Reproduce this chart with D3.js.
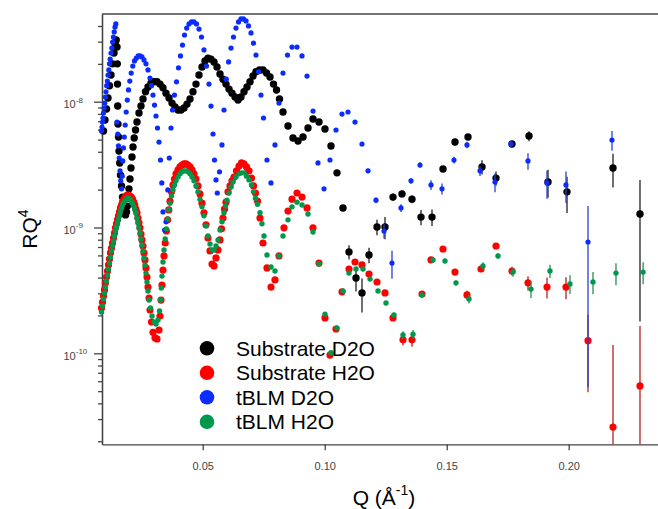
<!DOCTYPE html>
<html>
<head>
<meta charset="utf-8">
<script src="https://cdn.jsdelivr.net/npm/d3@7/dist/d3.min.js"></script>
<style>
  body { margin: 0; background: #fff; }
  svg { font-family: "Liberation Sans", Arial, sans-serif; }
</style>
</head>
<body>
<div id="canvas"></div>
<script>
// [Q, RQ^4, relative error (optional)]
var substrateD2O = [
  [0.00934,5.85e-9],[0.00996,7.15e-9],[0.01057,8.74e-9],[0.01119,1.07e-8],[0.0118,1.34e-8],
  [0.01242,1.63e-8],[0.01303,2.00e-8],[0.01365,2.44e-8],[0.01414,2.82e-8],[0.01455,3.09e-8],
  [0.01488,2.72e-8],[0.015,2.00e-8],[0.01508,1.38e-8],[0.01516,9.24e-9],[0.01529,6.64e-9],[0.01549,5.24e-9],
  [0.0157,4.05e-9],[0.01598,3.26e-9],[0.01631,2.61e-9],[0.01672,2.14e-9],[0.01713,1.745e-9],[0.01754,1.48e-9],
  [0.01795,1.31e-9],[0.01836,1.26e-9],[0.01877,1.33e-9],[0.0191,1.48e-9],[0.01947,1.71e-9],[0.01979,2.03e-9],
  [0.0202,2.43e-9],[0.02061,2.97e-9],[0.02102,3.63e-9],[0.02143,4.37e-9],[0.02193,5.15e-9],[0.02246,5.96e-9],
  [0.02307,6.89e-9],[0.02389,8.13e-9],[0.02471,9.24e-9],[0.02553,1.05e-8],[0.02656,1.20e-8],[0.02758,1.31e-8],
  [0.02881,1.41e-8],[0.03004,1.44e-8],[0.03127,1.44e-8],[0.0325,1.38e-8],[0.03373,1.29e-8],[0.03496,1.17e-8],
  [0.03619,1.07e-8],[0.03742,9.75e-9],[0.03865,9.07e-9],[0.03988,8.59e-9],[0.04111,8.59e-9],[0.04234,8.91e-9],
  [0.04357,9.57e-9],[0.0448,1.05e-8],[0.04602,1.20e-8],[0.04725,1.38e-8],[0.04848,1.63e-8],[0.04971,1.89e-8],
  [0.05094,2.11e-8],[0.05217,2.22e-8],[0.0534,2.18e-8],[0.05463,2.07e-8],[0.05586,1.89e-8],[0.05709,1.66e-8],
  [0.05832,1.51e-8],[0.05955,1.38e-8],[0.06078,1.26e-8],[0.06201,1.17e-8],[0.06324,1.09e-8],[0.06447,1.03e-8],
  [0.0657,1.09e-8],[0.06693,1.20e-8],[0.06816,1.31e-8],[0.06939,1.44e-8],[0.07062,1.60e-8],[0.07184,1.73e-8],
  [0.07328,1.79e-8],[0.07471,1.79e-8],[0.07615,1.69e-8],[0.07758,1.57e-8],[0.07902,1.38e-8],[0.08025,1.24e-8],
  [0.08148,1.05e-8],[0.08291,8.28e-9],[0.08496,6.41e-9],[0.08701,5.15e-9],[0.08906,4.87e-9],[0.09111,5.24e-9],
  [0.09316,6.18e-9],[0.0952,7.29e-9],[0.09766,6.89e-9],[0.10012,6.07e-9],[0.10258,4.45e-9],[0.10504,2.72e-9],
  [0.1075,1.43e-9,0.05],[0.10996,6.39e-10,0.13],[0.11283,3.97e-10,0.22],[0.11529,3.02e-10,0.3],
  [0.11816,6.05e-10,0.14],[0.12144,1.01e-9,0.14],[0.12471,1.01e-9,0.2],[0.12799,1.745e-9,0.07],
  [0.13168,1.85e-9,0.06],[0.13578,1.68e-9,0.07],[0.13947,1.21e-9,0.14],[0.14398,1.21e-9,0.15],
  [0.14848,2.92e-9,0.05],[0.1534,4.78e-9,0.06],[0.15873,5.24e-9,0.05],[0.16447,3.03e-9,0.13],
  [0.17021,2.47e-9,0.13],[0.17676,4.61e-9,0.06],[0.18373,5.34e-9,0.09],[0.19152,2.30e-9,0.25],
  [0.19931,1.92e-9,0.32],[0.21816,2.97e-9,0.3],[0.22922,1.28e-9,0.86]
];

var substrateH2O = [
  [0.00852,2.29e-10],[0.00893,2.55e-10],[0.00934,2.86e-10],[0.00975,3.19e-10],[0.01016,3.63e-10],[0.01057,4.04e-10],
  [0.01098,4.51e-10],[0.01139,5.04e-10],[0.0118,5.62e-10],[0.01221,6.28e-10],[0.01262,6.87e-10],[0.01303,7.53e-10],
  [0.01344,8.25e-10],[0.01385,9.04e-10],[0.01426,9.94e-10],[0.01467,1.07e-9],[0.01508,1.15e-9],[0.01549,1.24e-9],
  [0.0159,1.33e-9],[0.01631,1.43e-9],[0.01672,1.51e-9],[0.01713,1.59e-9],[0.01754,1.65e-9],[0.01803,1.71e-9],
  [0.01857,1.78e-9],[0.0191,1.81e-9],[0.01963,1.81e-9],[0.0202,1.78e-9],[0.02074,1.745e-9],[0.02123,1.68e-9],
  [0.02172,1.59e-9],[0.02217,1.51e-9],[0.02262,1.40e-9],[0.02307,1.31e-9],[0.02348,1.19e-9],[0.02389,1.09e-9],
  [0.0243,9.94e-10],[0.02471,8.87e-10],[0.02512,7.96e-10],[0.02553,7.13e-10],[0.02594,6.28e-10],[0.02635,5.52e-10],
  [0.02676,4.77e-10],[0.02717,4.04e-10],[0.02758,3.36e-10],[0.02799,2.75e-10],[0.0284,2.21e-10],[0.02902,1.77e-10],
  [0.02963,1.47e-10],[0.03045,1.33e-10],[0.03127,1.30e-10],[0.03209,1.53e-10],[0.0325,1.98e-10],[0.03291,2.65e-10],
  [0.03332,3.49e-10],[0.03373,4.59e-10],[0.03414,5.94e-10],[0.03463,7.53e-10],[0.03512,9.38e-10],[0.03562,1.15e-9],
  [0.03611,1.38e-9],[0.0366,1.62e-9],[0.03721,1.92e-9],[0.03783,2.18e-9],[0.03844,2.43e-9],[0.03906,2.67e-9],
  [0.03988,2.87e-9],[0.0407,3.03e-9],[0.04152,3.14e-9],[0.04234,3.20e-9],[0.04316,3.20e-9],[0.04398,3.14e-9],
  [0.0448,3.03e-9],[0.04562,2.87e-9],[0.04643,2.67e-9],[0.04725,2.43e-9],[0.04807,2.14e-9],[0.04889,1.85e-9],
  [0.04971,1.56e-9],[0.05053,1.31e-9],[0.05135,1.05e-9],[0.05217,8.25e-10],[0.05299,6.51e-10],[0.05381,5.13e-10],
  [0.05463,4.95e-10],[0.05545,5.73e-10],[0.05627,6.63e-10],[0.05709,7.96e-10],[0.05771,9.76e-10],[0.05832,1.19e-9],
  [0.05893,1.40e-9],[0.05955,1.59e-9],[0.06037,1.92e-9],[0.06119,2.14e-9],[0.06201,2.35e-9],[0.06283,2.52e-9],
  [0.06385,2.82e-9],[0.06488,3.08e-9],[0.0659,3.26e-9],[0.06693,3.20e-9],[0.06795,3.03e-9],[0.06898,2.82e-9],
  [0.07,2.47e-9],[0.07082,2.14e-9],[0.07164,1.88e-9],[0.07246,1.62e-9],[0.07348,1.19e-9],[0.07471,7.53e-10],
  [0.07635,4.77e-10],[0.07799,3.36e-10],[0.07963,3.83e-10],[0.08127,5.94e-10],[0.08332,9.94e-10],[0.08496,1.35e-9],
  [0.0866,1.68e-9],[0.08865,1.88e-9],[0.0907,1.745e-9],[0.09275,1.43e-9],[0.0952,9.94e-10],[0.09766,5.22e-10],
  [0.10012,1.91e-10],[0.10217,9.69e-11],[0.10463,1.56e-10],[0.10709,3.08e-10],[0.10996,4.68e-10],[0.11242,5.32e-10],
  [0.11529,5.04e-10],[0.11816,4.27e-10],[0.12144,3.69e-10],[0.12471,3.02e-10],[0.12799,1.91e-10,0.05],
  [0.13209,1.28e-10,0.1],[0.13578,1.28e-10,0.12],[0.13988,2.96e-10,0.05],[0.14357,5.52e-10,0.04],
  [0.14848,6.75e-10,0.04],[0.1534,4.42e-10,0.05],[0.15832,2.91e-10,0.08],[0.16406,4.68e-10,0.06],
  [0.17021,7.13e-10,0.05],[0.17676,4.51e-10,0.08],[0.18332,3.63e-10,0.13],[0.19111,3.36e-10,0.19],
  [0.1989,3.36e-10,0.2],[0.20791,1.26e-10,0.61],[0.21816,2.59e-11,3.5],[0.22922,5.50e-11,2.0]
];

var tblmD2O = [
  [0.00852,5.85e-9],[0.00873,6.29e-9],[0.00893,6.89e-9],[0.00914,7.42e-9],[0.00934,8.13e-9],[0.00955,8.91e-9],
  [0.00984,9.75e-9],[0.01012,1.09e-8],[0.01037,1.20e-8],[0.01066,1.34e-8],[0.01094,1.46e-8],[0.01119,1.63e-8],
  [0.01152,1.79e-8],[0.0118,2.00e-8],[0.01209,2.18e-8],[0.01242,2.44e-8],[0.01275,2.67e-8],[0.01307,2.98e-8],
  [0.0134,3.27e-8],[0.01373,3.59e-8],[0.01406,3.92e-8],[0.01439,4.15e-8],
  [0.01488,6.89e-9],[0.0152,5.54e-9],[0.01549,4.45e-9],[0.01578,3.57e-9],[0.01611,2.82e-9],[0.01639,2.35e-9],
  [0.01672,2.03e-9],[0.01701,2.56e-9],[0.01725,3.38e-9],[0.01754,4.29e-9],[0.01787,5.24e-9],[0.01824,6.53e-9],
  [0.01865,8.28e-9],[0.0191,1.03e-8],[0.01959,1.24e-8],[0.02012,1.46e-8],[0.0207,1.69e-8],[0.02135,1.92e-8],
  [0.02205,2.11e-8],[0.02279,2.22e-8],[0.02357,2.31e-8],[0.02434,2.31e-8],[0.02512,2.27e-8],[0.02594,2.15e-8],
  [0.02676,2.00e-8],[0.02758,1.79e-8],[0.0284,1.54e-8],[0.02902,1.34e-8],[0.02963,1.13e-8],[0.03025,9.41e-9],
  [0.03086,7.70e-9],[0.03148,6.18e-9],[0.03209,4.78e-9],[0.0327,3.44e-9],[0.03324,2.26e-9],[0.03373,1.33e-9],
  [0.03439,9.55e-10],[0.03496,1.11e-9],[0.0357,1.99e-9],[0.03631,3.57e-9],[0.03701,6.18e-9],[0.03762,8.59e-9],
  [0.03844,1.13e-8],[0.03926,1.44e-8],[0.04008,1.86e-8],[0.0409,2.31e-8],[0.04172,2.82e-8],[0.04254,3.39e-8],
  [0.04344,3.85e-8],[0.04439,4.15e-8],[0.04541,4.31e-8],[0.04643,4.31e-8],[0.04746,4.15e-8],[0.04848,3.78e-8],
  [0.04951,3.27e-8],[0.05053,2.58e-8],[0.05156,1.92e-8],[0.05258,1.38e-8],[0.0534,9.24e-9],[0.05422,5.54e-9],
  [0.05484,3.44e-9],[0.05545,2.39e-9],[0.05598,1.88e-9],[0.05689,2.77e-9],[0.05791,4.53e-9],[0.05873,8.59e-9],
  [0.05967,1.51e-8],[0.06061,2.07e-8],[0.0616,2.67e-8],[0.06262,3.27e-8],[0.06365,3.85e-8],[0.06467,4.31e-8],
  [0.0657,4.55e-8],[0.06672,4.55e-8],[0.06775,4.39e-8],[0.06877,4.00e-8],[0.0698,3.52e-8],[0.07082,2.92e-8],
  [0.07184,2.35e-8],[0.07287,1.73e-8],[0.07389,1.13e-8],[0.07492,7.42e-9],[0.07635,3.44e-9],[0.07799,2.26e-9],
  [0.07963,4.53e-9],[0.08127,9.75e-9],[0.08291,1.69e-8],[0.08475,2.35e-8],[0.0866,2.72e-8],[0.08865,2.72e-8],
  [0.0907,2.31e-8],[0.09275,1.60e-8],[0.09521,8.43e-9],[0.09725,3.26e-9],[0.09971,2.03e-9],
  [0.10217,3.44e-9,0.03],[0.10463,5.96e-9,0.03],[0.10709,7.98e-9,0.03],[0.10955,8.28e-9,0.03],
  [0.11242,6.89e-9,0.03],[0.11529,4.61e-9,0.04],[0.11775,2.82e-9,0.04],[0.12103,1.65e-9,0.05],
  [0.12431,9.38e-10,0.13],[0.12758,5.22e-10,0.25],[0.13127,1.43e-9,0.07],[0.13537,2.35e-9,0.05],
  [0.13906,3.14e-9,0.05],[0.14357,2.18e-9,0.09],[0.14807,2.03e-9,0.1],[0.15299,3.44e-9,0.06],
  [0.15832,4.53e-9,0.06],[0.16365,2.82e-9,0.09],[0.16979,2.30e-9,0.17],[0.17635,4.61e-9,0.06],
  [0.18332,3.38e-9,0.15],[0.1911,2.26e-9,0.25],[0.19889,2.18e-9,0.28],[0.20791,7.67e-10,0.93],
  [0.21774,4.96e-9,0.18]
];

var tblmH2O = [
  [0.00852,2.13e-10],[0.00893,2.38e-10],[0.00934,2.70e-10],[0.00975,3.02e-10],[0.01016,3.36e-10],[0.01057,3.76e-10],
  [0.01098,4.19e-10],[0.01139,4.68e-10],[0.0118,5.22e-10],[0.01221,5.83e-10],[0.01262,6.51e-10],[0.01303,7.13e-10],
  [0.01344,7.82e-10],[0.01385,8.56e-10],[0.01426,9.38e-10],[0.01467,1.01e-9],[0.01508,1.09e-9],[0.01549,1.17e-9],
  [0.0159,1.26e-9],[0.01631,1.35e-9],[0.01672,1.43e-9],[0.01713,1.51e-9],[0.01754,1.56e-9],[0.01803,1.62e-9],
  [0.01857,1.68e-9],[0.0191,1.71e-9],[0.01963,1.71e-9],[0.0202,1.68e-9],[0.02074,1.62e-9],[0.02123,1.56e-9],
  [0.02172,1.48e-9],[0.02217,1.40e-9],[0.02262,1.31e-9],[0.02307,1.19e-9],[0.02348,1.09e-9],[0.02389,9.94e-10],
  [0.0243,9.04e-10],[0.02471,8.10e-10],[0.02512,7.26e-10],[0.02553,6.51e-10],[0.02594,5.73e-10],[0.02635,5.04e-10],
  [0.02676,4.34e-10],[0.02717,3.69e-10],[0.02758,3.13e-10],[0.02799,2.65e-10],[0.0286,2.29e-10],[0.02922,1.98e-10],
  [0.03004,1.77e-10],[0.03086,1.71e-10],[0.03168,1.84e-10],[0.0323,2.17e-10],[0.03271,2.65e-10],[0.03303,3.30e-10],
  [0.03332,4.11e-10],[0.03373,5.32e-10],[0.03414,6.63e-10],[0.03463,8.10e-10],[0.03512,9.76e-10],[0.03562,1.17e-9],
  [0.03611,1.38e-9],[0.0366,1.56e-9],[0.03721,1.78e-9],[0.03783,1.99e-9],[0.03844,2.18e-9],[0.03906,2.35e-9],
  [0.03988,2.52e-9],[0.0407,2.67e-9],[0.04152,2.77e-9],[0.04234,2.82e-9],[0.04316,2.82e-9],[0.04398,2.77e-9],
  [0.0448,2.67e-9],[0.04562,2.52e-9],[0.04643,2.35e-9],[0.04725,2.14e-9],[0.04807,1.92e-9],[0.04889,1.68e-9],
  [0.04971,1.46e-9],[0.05053,1.24e-9],[0.05135,1.03e-9],[0.05217,8.56e-10],[0.05299,7.40e-10],[0.05381,6.63e-10],
  [0.05463,6.63e-10],[0.05545,7.13e-10],[0.05627,7.96e-10],[0.05709,9.55e-10],[0.05791,1.11e-9],[0.05873,1.31e-9],
  [0.05934,1.48e-9],[0.05996,1.65e-9],[0.06078,1.88e-9],[0.0616,2.10e-9],[0.06242,2.30e-9],[0.06365,2.52e-9],
  [0.06488,2.67e-9],[0.0659,2.72e-9],[0.06693,2.72e-9],[0.06795,2.56e-9],[0.06898,2.39e-9],[0.07,2.18e-9],
  [0.07082,1.92e-9],[0.07164,1.71e-9],[0.07246,1.53e-9],[0.07348,1.31e-9],[0.0743,1.07e-9],[0.07512,8.56e-10],
  [0.07635,6.05e-10],[0.07799,4.86e-10],[0.07963,4.51e-10],[0.08127,5.94e-10],[0.08291,8.56e-10],[0.08496,1.15e-9],
  [0.0866,1.46e-9],[0.08865,1.59e-9],[0.0907,1.51e-9],[0.09316,1.28e-9],[0.0952,9.21e-10],[0.09766,5.13e-10],
  [0.10012,2.05e-10],[0.10258,1.01e-10],[0.10504,1.59e-10],[0.1075,3.13e-10],[0.10996,4.34e-10],[0.11283,4.68e-10],
  [0.1157,4.68e-10],[0.11857,3.89e-10],[0.12185,3.13e-10],[0.12512,2.51e-10],[0.1284,2.02e-10,0.04],
  [0.13209,1.40e-10,0.07],[0.13619,1.42e-10,0.08],[0.13988,2.91e-10,0.04],[0.14439,5.52e-10,0.04],
  [0.1493,5.42e-10,0.04],[0.15381,3.63e-10,0.05],[0.15914,2.70e-10,0.08],[0.16488,4.95e-10,0.07],
  [0.17103,5.94e-10,0.05],[0.17717,4.42e-10,0.08],[0.18455,3.24e-10,0.15],[0.19234,4.51e-10,0.12],
  [0.20053,3.56e-10,0.17],[0.20996,3.69e-10,0.2],[0.21938,4.34e-10,0.2],[0.2305,4.42e-10,0.2]
];

var seriesNames = ["Substrate D2O", "Substrate H2O", "tBLM D2O", "tBLM H2O"];
var xTicks = [0.05, 0.10, 0.15, 0.20];
var yMajorTicks = [1e-8, 1e-9, 1e-10];
var yTickLabels = ["-8", "-9", "-10"];

var seriesList = [
  { name: seriesNames[0], data: substrateD2O, color: "#000000", bar: "#222222", r: 3.7 },
  { name: seriesNames[1], data: substrateH2O, color: "#ff0000", bar: "#b22222", r: 3.6 },
  { name: seriesNames[2], data: tblmD2O, color: "#0a2cff", bar: "#2a3fd0", r: 2.6 },
  { name: seriesNames[3], data: tblmH2O, color: "#00984c", bar: "#2e8b57", r: 2.7 }
];

var width = 658, height = 509;
var plotLeft = 102, plotRight = 658, plotTop = 14, plotBottom = 444.3;

var svg = d3.select("#canvas").append("svg")
  .attr("width", width)
  .attr("height", height);

var x = d3.scaleLinear().domain([0.00873, 0.2366]).range([plotLeft, plotRight]);
var y = d3.scaleLog().domain([1.891e-11, 4.98e-8]).range([plotBottom, plotTop]);

svg.append("clipPath").attr("id", "plotclip")
  .append("rect")
  .attr("x", plotLeft).attr("y", plotTop)
  .attr("width", plotRight - plotLeft).attr("height", plotBottom - plotTop);

// minor y ticks 2..9 x 10^n
var yMinor = [];
[-11, -10, -9, -8].forEach(function (p) {
  for (var m = 2; m <= 9; m++) {
    var v = m * Math.pow(10, p);
    if (v >= 1.891e-11 && v <= 4.98e-8) yMinor.push(v);
  }
});

var axisColor = "#444";

var gyMinor = svg.append("g")
  .attr("transform", "translate(" + plotLeft + ",0)")
  .call(d3.axisLeft(y).tickValues(yMinor).tickSize(4).tickSizeOuter(0).tickFormat(""));
var gyMajor = svg.append("g")
  .attr("transform", "translate(" + plotLeft + ",0)")
  .call(d3.axisLeft(y).tickValues(yMajorTicks).tickSize(8).tickSizeOuter(0).tickFormat(""));
var gx = svg.append("g")
  .attr("transform", "translate(0," + plotBottom + ")")
  .call(d3.axisBottom(x).tickValues(xTicks).tickSize(6).tickSizeOuter(0).tickPadding(12)
    .tickFormat(d3.format(".2f")));

[gyMinor, gyMajor, gx].forEach(function (g) {
  g.attr("font-size", null).attr("font-family", null);
  g.selectAll("path, line").attr("stroke", axisColor).attr("stroke-width", 1.3);
  g.selectAll("text").attr("fill", axisColor).style("font-size", "11px");
});

// top frame line
svg.append("line")
  .attr("x1", plotLeft).attr("x2", plotRight).attr("y1", plotTop).attr("y2", plotTop)
  .attr("stroke", axisColor).attr("stroke-width", 1.5);

// y tick labels as 10^n
yMajorTicks.forEach(function (v, i) {
  var t = svg.append("text")
    .attr("x", 63.5)
    .attr("y", y(v) + 6.3)
    .attr("fill", axisColor)
    .style("font-size", "11px")
    .text("10");
  t.append("tspan")
    .attr("dy", -5.5)
    .style("font-size", "8px")
    .text(yTickLabels[i]);
});

// data: error bars then points
seriesList.forEach(function (s) {
  var g = svg.append("g");
  g.append("g").attr("clip-path", "url(#plotclip)")
    .selectAll("line").data(s.data.filter(function (d) { return d[2]; }))
    .enter().append("line")
    .attr("x1", function (d) { return x(d[0]); })
    .attr("x2", function (d) { return x(d[0]); })
    .attr("y1", function (d) { return y(d[1] * (1 + d[2])); })
    .attr("y2", function (d) {
      var lo = d[1] * (1 - d[2]);
      return lo > 0 ? y(lo) : plotBottom + 5;
    })
    .attr("stroke", s.bar)
    .attr("stroke-width", 1.3);

  g.append("g").selectAll("circle").data(s.data)
    .enter().append("circle")
    .attr("cx", function (d) { return x(d[0]); })
    .attr("cy", function (d) { return y(d[1]); })
    .attr("r", s.r)
    .attr("fill", s.color);
});

// legend
var legend = svg.append("g");
seriesList.forEach(function (s, i) {
  var ly = 348.3 + i * 24.5;
  legend.append("circle")
    .attr("cx", 207).attr("cy", ly).attr("r", 7.3)
    .attr("fill", s.color);
  legend.append("text")
    .attr("x", 236).attr("y", ly + 7.6)
    .style("font-size", "21px")
    .attr("fill", "#000")
    .text(s.name);
});

// axis titles
var yt = svg.append("text")
  .attr("transform", "translate(37,229) rotate(-90)")
  .attr("text-anchor", "middle")
  .style("font-size", "21px")
  .text("RQ");
yt.append("tspan").attr("dy", -9).style("font-size", "14px").text("4");

var xt = svg.append("text")
  .attr("x", 384).attr("y", 505)
  .attr("text-anchor", "middle")
  .style("font-size", "21px")
  .text("Q (\u00C5");
xt.append("tspan").attr("dy", -10).style("font-size", "14px").text("-1");
xt.append("tspan").attr("dy", 10).text(")");
</script>
</body>
</html>
